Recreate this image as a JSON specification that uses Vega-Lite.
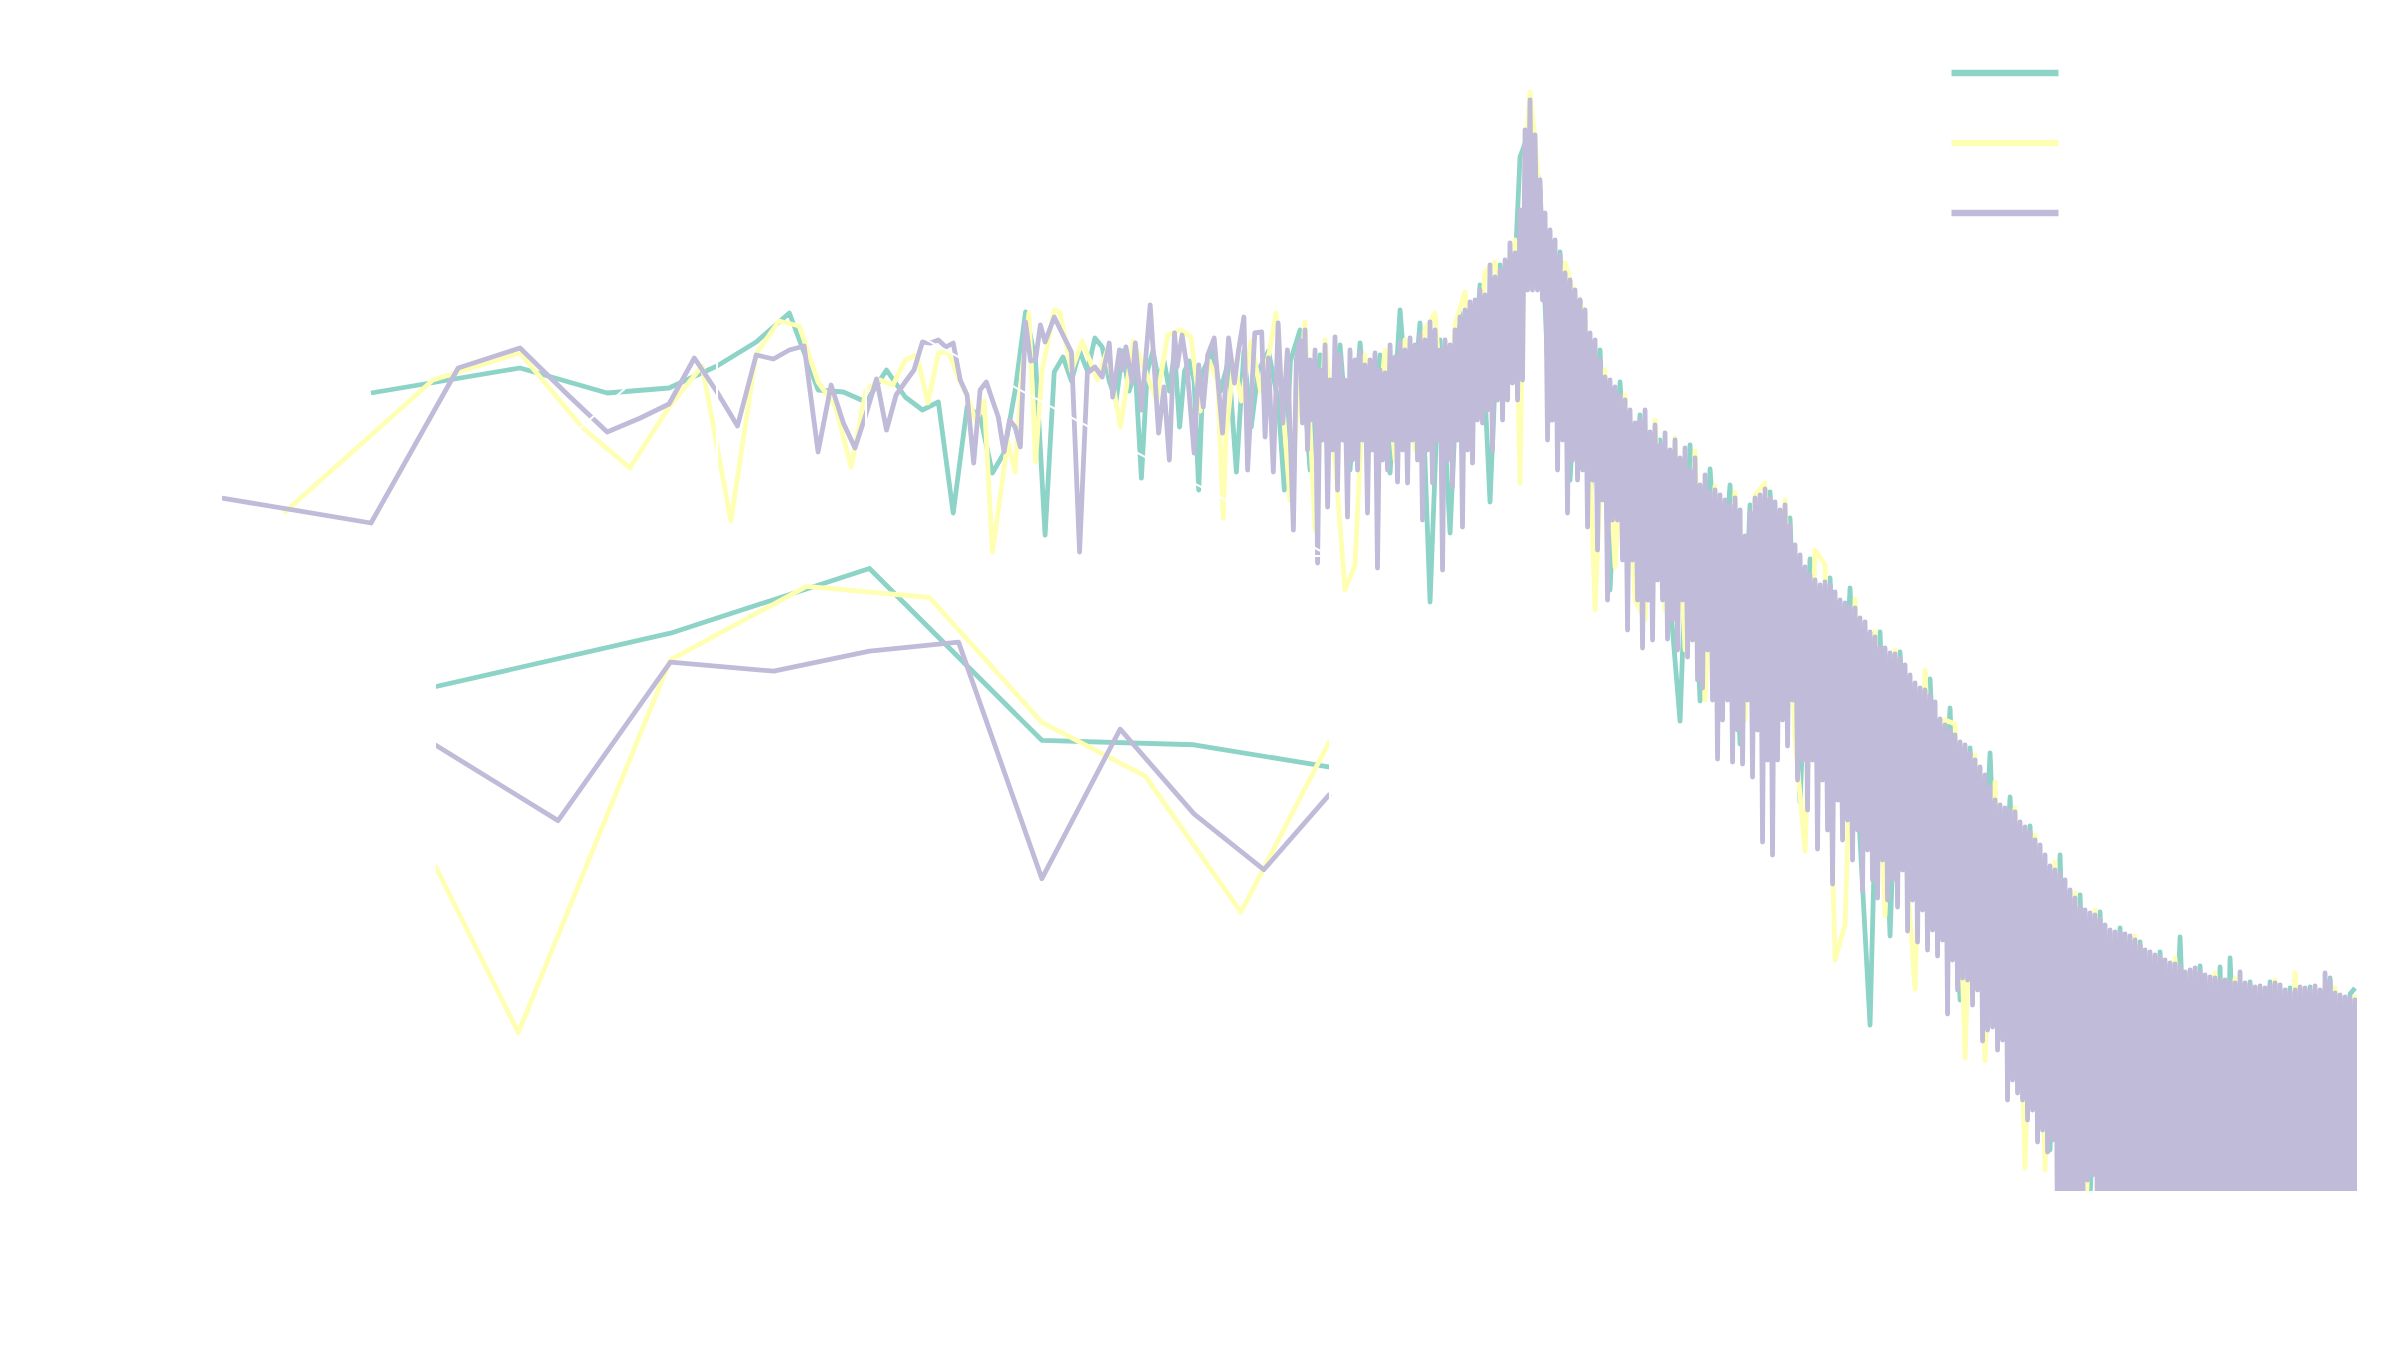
{
  "$schema": "https://vega.github.io/schema/vega-lite/v6.json",
  "width": 2135,
  "height": 1150,
  "autosize": {"type": "none"},
  "padding": {"left": 222, "top": 41, "right": 43, "bottom": 159},
  "background": "#ffffff",
  "config": {
    "view": {"stroke": null},
    "axis": {"domainColor": "#ffffff", "tickColor": "#ffffff", "labelColor": "#ffffff", "titleColor": "#ffffff", "grid": false, "labelFontSize": 22, "tickSize": 8},
    "legend": {"labelColor": "#ffffff"}
  },
  "datasets": {
    "zoom": [{"f1": 10, "f2": 20, "p1": -48.78, "p2": -26.64}],
    "links": [{"f1": 10, "p1": -26.64, "f2": 2.693, "p2": -51.5}, {"f1": 20, "p1": -26.64, "f2": 173.1, "p2": -51.5}],
    "spectra": [
{"series":"A","freq":2,"power":-35.2},{"series":"A","freq":4,"power":-32.7},{"series":"A","freq":6,"power":-35.2},{"series":"A","freq":8,"power":-34.7},{"series":"A","freq":10,"power":-32.5},{"series":"A","freq":12,"power":-30.1},{"series":"A","freq":14,"power":-27.2},{"series":"A","freq":16,"power":-34.9},{"series":"A","freq":18,"power":-35.1},{"series":"A","freq":20,"power":-36.1},
{"series":"A","freq":22,"power":-32.9},{"series":"A","freq":24,"power":-35.6},{"series":"A","freq":26,"power":-36.9},{"series":"A","freq":28,"power":-36.1},{"series":"A","freq":30,"power":-47.2},{"series":"A","freq":32,"power":-36.6},{"series":"A","freq":34,"power":-37.5},{"series":"A","freq":36,"power":-43.2},{"series":"A","freq":38,"power":-41.2},{"series":"A","freq":40,"power":-35.0},
{"series":"A","freq":42,"power":-27.1},{"series":"A","freq":44,"power":-32.0},{"series":"A","freq":46,"power":-49.4},{"series":"A","freq":48,"power":-33.1},{"series":"A","freq":50,"power":-31.6},{"series":"A","freq":52,"power":-34.0},{"series":"A","freq":54,"power":-31.0},{"series":"A","freq":56,"power":-33.0},{"series":"A","freq":58,"power":-29.7},{"series":"A","freq":60,"power":-30.6},
{"series":"A","freq":62,"power":-34.0},{"series":"A","freq":64,"power":-36.0},{"series":"A","freq":66,"power":-31.0},{"series":"A","freq":68,"power":-35.0},{"series":"A","freq":70,"power":-33.0},{"series":"A","freq":72,"power":-43.7},{"series":"A","freq":74,"power":-33.0},{"series":"A","freq":76,"power":-31.0},{"series":"A","freq":78,"power":-34.0},{"series":"A","freq":80,"power":-32.0},
{"series":"A","freq":82,"power":-35.0},{"series":"A","freq":84,"power":-31.0},{"series":"A","freq":86,"power":-38.6},{"series":"A","freq":88,"power":-33.0},{"series":"A","freq":90,"power":-32.0},{"series":"A","freq":92,"power":-34.0},{"series":"A","freq":94,"power":-44.9},{"series":"A","freq":96,"power":-33.0},{"series":"A","freq":100,"power":-31.0},{"series":"A","freq":104,"power":-35.0},
{"series":"A","freq":108,"power":-32.0},{"series":"A","freq":112,"power":-43.1},{"series":"A","freq":116,"power":-31.0},{"series":"A","freq":120,"power":-38.6},{"series":"A","freq":124,"power":-33.0},{"series":"A","freq":130,"power":-31.0},{"series":"A","freq":136,"power":-36.0},{"series":"A","freq":140,"power":-44.9},{"series":"A","freq":144,"power":-32.0},
{"series":"A","freq":150.6,"power":-28.9},{"series":"A","freq":157.8,"power":-42.9},{"series":"A","freq":165.3,"power":-31.4},{"series":"A","freq":173.1,"power":-39.9},{"series":"A","freq":181.4,"power":-30.4},{"series":"A","freq":190.0,"power":-42.9},{"series":"A","freq":199.1,"power":-30.2},{"series":"A","freq":208.5,"power":-40.9},{"series":"A","freq":218.5,"power":-31.4},{"series":"A","freq":228.9,"power":-43.2},
{"series":"A","freq":239.8,"power":-26.9},{"series":"A","freq":251.2,"power":-39.9},{"series":"A","freq":263.1,"power":-28.2},{"series":"A","freq":275.7,"power":-56.1},{"series":"A","freq":288.8,"power":-29.9},{"series":"A","freq":302.6,"power":-49.2},{"series":"A","freq":316.9,"power":-27.1},{"series":"A","freq":332.0,"power":-39.9},{"series":"A","freq":347.8,"power":-24.4},{"series":"A","freq":364.4,"power":-46.1},
{"series":"A","freq":381.8,"power":-22.4},{"series":"A","freq":399.9,"power":-33.9},{"series":"A","freq":419.0,"power":-11.6},{"series":"A","freq":438.9,"power":-8.9},{"series":"A","freq":459.8,"power":-14.7},{"series":"A","freq":481.8,"power":-37.9},{"series":"A","freq":504.7,"power":-21.1},{"series":"A","freq":528.7,"power":-43.9},{"series":"A","freq":553.9,"power":-25.9},{"series":"A","freq":580.3,"power":-45.9},
{"series":"A","freq":607.9,"power":-30.9},{"series":"A","freq":636.8,"power":-54.9},{"series":"A","freq":667.2,"power":-34.1},{"series":"A","freq":698.9,"power":-51.9},
{"series":"A","freq":732.2,"power":-37.4},{"series":"A","freq":767.1,"power":-55.9},{"series":"A","freq":803.6,"power":-39.9},{"series":"A","freq":841.9,"power":-55.9},{"series":"A","freq":882.0,"power":-68.0},{"series":"A","freq":924.0,"power":-40.4},{"series":"A","freq":968.0,"power":-66.0},{"series":"A","freq":1014.1,"power":-42.8},{"series":"A","freq":1062.4,"power":-57.9},{"series":"A","freq":1113.0,"power":-44.4},
{"series":"A","freq":1166.0,"power":-70.3},{"series":"A","freq":1221.4,"power":-46.4},{"series":"A","freq":1279.6,"power":-65.9},{"series":"A","freq":1340.5,"power":-45.1},{"series":"A","freq":1404.4,"power":-63.9},{"series":"A","freq":1471.2,"power":-47.7},{"series":"A","freq":1541.3,"power":-76.1},{"series":"A","freq":1614.7,"power":-51.8},{"series":"A","freq":1691.6,"power":-71.9},{"series":"A","freq":1772.1,"power":-53.7},
{"series":"A","freq":1856.5,"power":-75.9},{"series":"A","freq":1944.9,"power":-54.7},{"series":"A","freq":2037.5,"power":-79.9},{"series":"A","freq":2134.5,"power":-98.4},{"series":"A","freq":2236.2,"power":-59.1},{"series":"A","freq":2342.7,"power":-89.5},{"series":"A","freq":2454.2,"power":-61.1},{"series":"A","freq":2571.1,"power":-82.9},{"series":"A","freq":2693.5,"power":-83.9},{"series":"A","freq":2821.8,"power":-63.8},
{"series":"A","freq":2956.2,"power":-85.9},{"series":"A","freq":3096.9,"power":-66.7},{"series":"A","freq":3244.4,"power":-95.9},{"series":"A","freq":3398.9,"power":-70.7},{"series":"A","freq":3560.8,"power":-91.9},{"series":"A","freq":3730.4,"power":-71.2},{"series":"A","freq":3907.8,"power":-95.9},{"series":"A","freq":4093.9,"power":-75.6},{"series":"A","freq":4288.9,"power":-100.9},{"series":"A","freq":4493.1,"power":-78.5},
{"series":"A","freq":4707.1,"power":-105.9},{"series":"A","freq":4931.1,"power":-110.9},{"series":"A","freq":5166.0,"power":-81.4},{"series":"A","freq":5412.0,"power":-115.9},{"series":"A","freq":5669.7,"power":-85.4},{"series":"A","freq":5939.7,"power":-115.9},{"series":"A","freq":6222.4,"power":-87.1},{"series":"A","freq":6518.8,"power":-115.9},{"series":"A","freq":6829.2,"power":-88.7},{"series":"A","freq":7154.4,"power":-115.9},
{"series":"A","freq":7495.1,"power":-90.1},{"series":"A","freq":7851.8,"power":-115.9},{"series":"A","freq":8225.8,"power":-91.1},{"series":"A","freq":8617.5,"power":-115.9},{"series":"A","freq":9027.9,"power":-89.6},{"series":"A","freq":9457.8,"power":-115.9},{"series":"A","freq":9907.9,"power":-92.5},{"series":"A","freq":10380,"power":-115.9},{"series":"A","freq":10874,"power":-92.6},{"series":"A","freq":11130,"power":-115.9},{"series":"A","freq":11392,"power":-91.7},
{"series":"A","freq":11934,"power":-115.9},{"series":"A","freq":12502,"power":-94.1},{"series":"A","freq":13098,"power":-115.9},{"series":"A","freq":13721,"power":-94.1},{"series":"A","freq":14375,"power":-115.9},{"series":"A","freq":15059,"power":-94.7},{"series":"A","freq":15776,"power":-115.9},{"series":"A","freq":16527,"power":-94.6},{"series":"A","freq":17314,"power":-115.9},{"series":"A","freq":18139,"power":-93.7},
{"series":"A","freq":19002,"power":-115.9},{"series":"A","freq":19907,"power":-95.3},{"series":"A","freq":20375,"power":-94.7},

{"series":"B","freq":1.333,"power":-47.2},{"series":"B","freq":2.667,"power":-33.9},{"series":"B","freq":4,"power":-31.2},{"series":"B","freq":5.333,"power":-38.6},{"series":"B","freq":6.667,"power":-42.7},{"series":"B","freq":8,"power":-36.6},{"series":"B","freq":9.333,"power":-32.5},{"series":"B","freq":10,"power":-40.5},{"series":"B","freq":10.667,"power":-48.0},{"series":"B","freq":12,"power":-31.3},
{"series":"B","freq":13.333,"power":-28.0},{"series":"B","freq":14.667,"power":-28.5},{"series":"B","freq":16,"power":-34.1},{"series":"B","freq":17.333,"power":-36.5},{"series":"B","freq":18.667,"power":-42.6},{"series":"B","freq":20,"power":-34.9},{"series":"B","freq":21.333,"power":-33.9},{"series":"B","freq":22.667,"power":-34.4},{"series":"B","freq":24,"power":-31.9},{"series":"B","freq":25.333,"power":-31.4},
{"series":"B","freq":26.667,"power":-36.2},{"series":"B","freq":28,"power":-31.2},{"series":"B","freq":29.333,"power":-31.1},{"series":"B","freq":30.667,"power":-33.6},{"series":"B","freq":32,"power":-35.5},{"series":"B","freq":33.333,"power":-38.0},{"series":"B","freq":34.667,"power":-36.0},{"series":"B","freq":36,"power":-51.1},{"series":"B","freq":37.333,"power":-45.6},{"series":"B","freq":38.667,"power":-40.0},
{"series":"B","freq":40,"power":-43.1},{"series":"B","freq":41.333,"power":-33.0},{"series":"B","freq":42.667,"power":-27.2},{"series":"B","freq":44,"power":-42.1},{"series":"B","freq":45.333,"power":-33.0},{"series":"B","freq":46.667,"power":-30.0},{"series":"B","freq":48,"power":-26.9},{"series":"B","freq":49.333,"power":-27.2},{"series":"B","freq":52,"power":-33.0},{"series":"B","freq":54.667,"power":-30.0},
{"series":"B","freq":58.667,"power":-33.9},{"series":"B","freq":61.333,"power":-31.0},{"series":"B","freq":65.333,"power":-38.6},{"series":"B","freq":69.333,"power":-30.0},{"series":"B","freq":73.333,"power":-33.0},{"series":"B","freq":77.333,"power":-36.0},{"series":"B","freq":81.333,"power":-29.4},{"series":"B","freq":86.667,"power":-28.9},{"series":"B","freq":90.667,"power":-29.6},{"series":"B","freq":94.667,"power":-37.0},
{"series":"B","freq":98.667,"power":-32.0},{"series":"B","freq":102.667,"power":-34.0},{"series":"B","freq":105.333,"power":-47.7},{"series":"B","freq":106.667,"power":-39.6},{"series":"B","freq":110.667,"power":-32.0},{"series":"B","freq":114.667,"power":-36.0},{"series":"B","freq":120,"power":-30.0},{"series":"B","freq":125.333,"power":-35.0},{"series":"B","freq":130.667,"power":-31.0},{"series":"B","freq":134.667,"power":-27.2},
{"series":"B","freq":143.7,"power":-45.9},
{"series":"B","freq":154.1,"power":-28.1},{"series":"B","freq":161.5,"power":-48.9},{"series":"B","freq":169.2,"power":-29.9},{"series":"B","freq":177.2,"power":-41.9},{"series":"B","freq":185.6,"power":-54.9},{"series":"B","freq":194.5,"power":-52.4},{"series":"B","freq":203.7,"power":-31.4},{"series":"B","freq":213.4,"power":-40.9},{"series":"B","freq":223.6,"power":-30.9},{"series":"B","freq":234.3,"power":-41.9},
{"series":"B","freq":245.4,"power":-29.9},{"series":"B","freq":257.1,"power":-40.9},{"series":"B","freq":269.3,"power":-28.9},{"series":"B","freq":282.2,"power":-27.2},{"series":"B","freq":295.6,"power":-40.9},{"series":"B","freq":309.7,"power":-28.4},{"series":"B","freq":324.4,"power":-25.1},{"series":"B","freq":339.8,"power":-37.9},{"series":"B","freq":356.0,"power":-23.1},{"series":"B","freq":373.0,"power":-22.1},
{"series":"B","freq":390.8,"power":-35.9},{"series":"B","freq":409.4,"power":-19.9},{"series":"B","freq":419.0,"power":-44.2},{"series":"B","freq":428.9,"power":-11.9},{"series":"B","freq":438.9,"power":-5.1},{"series":"B","freq":449.3,"power":-9.9},{"series":"B","freq":459.8,"power":-15.9},{"series":"B","freq":470.7,"power":-23.9},{"series":"B","freq":493.1,"power":-37.2},{"series":"B","freq":516.6,"power":-22.2},
{"series":"B","freq":541.2,"power":-25.6},{"series":"B","freq":567.0,"power":-27.1},{"series":"B","freq":594.0,"power":-56.9},{"series":"B","freq":622.2,"power":-32.9},{"series":"B","freq":651.8,"power":-52.6},{"series":"B","freq":682.9,"power":-35.4},{"series":"B","freq":715.4,"power":-55.9},
{"series":"B","freq":749.5,"power":-57.9},{"series":"B","freq":785.1,"power":-37.9},{"series":"B","freq":822.5,"power":-56.9},{"series":"B","freq":861.7,"power":-39.7},{"series":"B","freq":902.8,"power":-60.9},{"series":"B","freq":945.7,"power":-41.0},{"series":"B","freq":990.8,"power":-65.9},{"series":"B","freq":1038.0,"power":-44.5},{"series":"B","freq":1087.4,"power":-63.9},{"series":"B","freq":1139.2,"power":-45.1},
{"series":"B","freq":1193.4,"power":-67.9},{"series":"B","freq":1250.1,"power":-45.4},{"series":"B","freq":1309.7,"power":-44.2},{"series":"B","freq":1372.1,"power":-71.9},{"series":"B","freq":1437.4,"power":-45.9},{"series":"B","freq":1505.8,"power":-69.9},{"series":"B","freq":1577.6,"power":-81.0},{"series":"B","freq":1652.7,"power":-50.9},{"series":"B","freq":1731.4,"power":-52.4},{"series":"B","freq":1813.8,"power":-91.9},
{"series":"B","freq":1900.2,"power":-88.4},{"series":"B","freq":1990.7,"power":-55.8},{"series":"B","freq":2085.4,"power":-73.9},{"series":"B","freq":2184.8,"power":-59.1},{"series":"B","freq":2288.8,"power":-87.5},{"series":"B","freq":2397.8,"power":-60.9},{"series":"B","freq":2512.0,"power":-80.9},{"series":"B","freq":2631.6,"power":-94.8},{"series":"B","freq":2756.9,"power":-62.9},{"series":"B","freq":2888.2,"power":-85.9},
{"series":"B","freq":3025.7,"power":-67.9},{"series":"B","freq":3169.8,"power":-68.3},{"series":"B","freq":3320.8,"power":-101.7},{"series":"B","freq":3478.9,"power":-71.4},{"series":"B","freq":3644.6,"power":-102.0},{"series":"B","freq":3818.2,"power":-74.1},{"series":"B","freq":3999.8,"power":-95.9},{"series":"B","freq":4190.2,"power":-76.7},{"series":"B","freq":4389.8,"power":-112.7},{"series":"B","freq":4598.8,"power":-79.4},
{"series":"B","freq":4817.8,"power":-112.9},{"series":"B","freq":5047.2,"power":-82.1},{"series":"B","freq":5287.5,"power":-120.9},{"series":"B","freq":5539.3,"power":-85.2},{"series":"B","freq":5803.1,"power":-120.9},{"series":"B","freq":6079.5,"power":-86.9},{"series":"B","freq":6368.9,"power":-115.9},{"series":"B","freq":6672.2,"power":-89.3},{"series":"B","freq":6989.9,"power":-115.9},{"series":"B","freq":7322.8,"power":-89.5},
{"series":"B","freq":7671.5,"power":-115.9},{"series":"B","freq":8036.6,"power":-91.6},{"series":"B","freq":8419.4,"power":-115.9},{"series":"B","freq":8820.3,"power":-91.7},{"series":"B","freq":9240.3,"power":-115.9},{"series":"B","freq":9680.4,"power":-92.9},{"series":"B","freq":10141,"power":-115.9},{"series":"B","freq":10624,"power":-93.2},{"series":"B","freq":11130,"power":-115.9},{"series":"B","freq":11660,"power":-93.7},
{"series":"B","freq":12215,"power":-115.9},{"series":"B","freq":12796,"power":-94.8},{"series":"B","freq":13406,"power":-115.9},{"series":"B","freq":14044,"power":-93.9},{"series":"B","freq":14713,"power":-115.9},{"series":"B","freq":15414,"power":-93.2},{"series":"B","freq":16147,"power":-115.9},{"series":"B","freq":16916,"power":-94.7},{"series":"B","freq":17722,"power":-115.9},{"series":"B","freq":18565,"power":-94.7},
{"series":"B","freq":19449,"power":-115.9},{"series":"B","freq":20375,"power":-95.4},

{"series":"C","freq":1,"power":-45.7},{"series":"C","freq":2,"power":-48.2},{"series":"C","freq":3,"power":-32.7},{"series":"C","freq":4,"power":-30.7},{"series":"C","freq":5,"power":-35.4},{"series":"C","freq":6,"power":-39.1},{"series":"C","freq":7,"power":-37.7},{"series":"C","freq":8,"power":-36.3},{"series":"C","freq":9,"power":-31.7},{"series":"C","freq":10,"power":-35.1},
{"series":"C","freq":11,"power":-38.5},{"series":"C","freq":12,"power":-31.4},{"series":"C","freq":13,"power":-31.8},{"series":"C","freq":14,"power":-30.9},{"series":"C","freq":15,"power":-30.5},{"series":"C","freq":16,"power":-41.1},{"series":"C","freq":17,"power":-34.4},{"series":"C","freq":18,"power":-38.2},{"series":"C","freq":19,"power":-40.7},{"series":"C","freq":20,"power":-37.3},
{"series":"C","freq":21,"power":-33.8},{"series":"C","freq":22,"power":-38.9},{"series":"C","freq":23,"power":-35.4},{"series":"C","freq":24,"power":-34.1},{"series":"C","freq":25,"power":-32.9},{"series":"C","freq":26,"power":-30.1},{"series":"C","freq":27,"power":-30.2},{"series":"C","freq":28,"power":-29.9},{"series":"C","freq":29,"power":-30.6},{"series":"C","freq":30,"power":-30.2},
{"series":"C","freq":31,"power":-33.9},{"series":"C","freq":32,"power":-35.4},{"series":"C","freq":33,"power":-42.2},{"series":"C","freq":34,"power":-34.9},{"series":"C","freq":35,"power":-34.1},{"series":"C","freq":36,"power":-35.9},{"series":"C","freq":37,"power":-37.6},{"series":"C","freq":38,"power":-41.1},{"series":"C","freq":39,"power":-37.9},{"series":"C","freq":40,"power":-38.6},
{"series":"C","freq":41,"power":-40.6},{"series":"C","freq":42,"power":-28.1},{"series":"C","freq":43,"power":-32.0},{"series":"C","freq":44,"power":-31.9},{"series":"C","freq":45,"power":-28.4},{"series":"C","freq":46,"power":-30.1},{"series":"C","freq":48,"power":-27.6},{"series":"C","freq":50,"power":-29.4},{"series":"C","freq":52,"power":-31.1},{"series":"C","freq":54,"power":-51.1},
{"series":"C","freq":56,"power":-33.2},{"series":"C","freq":58,"power":-32.6},{"series":"C","freq":60,"power":-33.6},{"series":"C","freq":62,"power":-30.2},{"series":"C","freq":63,"power":-35.6},{"series":"C","freq":65,"power":-30.9},{"series":"C","freq":66,"power":-32.9},{"series":"C","freq":67,"power":-30.6},{"series":"C","freq":69,"power":-34.2},{"series":"C","freq":70,"power":-30.2},
{"series":"C","freq":72,"power":-36.9},{"series":"C","freq":75,"power":-26.4},{"series":"C","freq":78,"power":-39.2},{"series":"C","freq":80,"power":-34.6},{"series":"C","freq":82,"power":-41.9},{"series":"C","freq":84,"power":-29.2},{"series":"C","freq":85,"power":-32.6},{"series":"C","freq":87,"power":-29.4},{"series":"C","freq":89,"power":-32.6},{"series":"C","freq":92,"power":-41.2},
{"series":"C","freq":94,"power":-32.4},{"series":"C","freq":96,"power":-36.6},{"series":"C","freq":98,"power":-31.4},{"series":"C","freq":101,"power":-29.7},{"series":"C","freq":105,"power":-39.2},{"series":"C","freq":108,"power":-29.7},{"series":"C","freq":111,"power":-34.2},{"series":"C","freq":113,"power":-31.1},{"series":"C","freq":116,"power":-27.6},{"series":"C","freq":118,"power":-42.9},
{"series":"C","freq":122,"power":-29.2},{"series":"C","freq":126,"power":-29.1},{"series":"C","freq":128,"power":-39.6},{"series":"C","freq":130,"power":-31.7},{"series":"C","freq":133,"power":-43.1},{"series":"C","freq":136,"power":-28.2},{"series":"C","freq":139,"power":-38.2},{"series":"C","freq":142,"power":-30.9},{"series":"C","freq":146,"power":-48.9},{"series":"C","freq":148,"power":-31.9},
{"series":"C","freq":150.6,"power":-29.9},{"series":"C","freq":152.3,"power":-38.2},{"series":"C","freq":154.1,"power":-28.9},{"series":"C","freq":155.9,"power":-40.9},{"series":"C","freq":157.8,"power":-31.9},{"series":"C","freq":159.6,"power":-37.9},{"series":"C","freq":161.5,"power":-30.9},{"series":"C","freq":163.4,"power":-52.2},{"series":"C","freq":165.3,"power":-32.9},{"series":"C","freq":167.2,"power":-39.9},
{"series":"C","freq":169.2,"power":-30.4},{"series":"C","freq":171.2,"power":-46.6},{"series":"C","freq":173.1,"power":-33.9},{"series":"C","freq":175.1,"power":-40.9},{"series":"C","freq":177.2,"power":-29.6},{"series":"C","freq":179.3,"power":-44.9},{"series":"C","freq":181.4,"power":-31.4},{"series":"C","freq":183.5,"power":-39.9},{"series":"C","freq":185.6,"power":-33.9},{"series":"C","freq":187.8,"power":-47.6},
{"series":"C","freq":190.0,"power":-30.9},{"series":"C","freq":192.2,"power":-41.9},{"series":"C","freq":194.5,"power":-31.9},{"series":"C","freq":196.8,"power":-42.9},{"series":"C","freq":199.1,"power":-31.1},{"series":"C","freq":201.4,"power":-39.9},{"series":"C","freq":203.7,"power":-32.4},{"series":"C","freq":206.1,"power":-47.2},{"series":"C","freq":208.5,"power":-31.9},{"series":"C","freq":210.9,"power":-40.9},
{"series":"C","freq":213.4,"power":-31.2},{"series":"C","freq":215.9,"power":-52.7},{"series":"C","freq":218.5,"power":-32.9},{"series":"C","freq":221.1,"power":-41.9},{"series":"C","freq":223.6,"power":-33.2},{"series":"C","freq":226.2,"power":-42.9},{"series":"C","freq":228.9,"power":-30.4},{"series":"C","freq":231.6,"power":-39.9},{"series":"C","freq":234.3,"power":-31.6},{"series":"C","freq":237.0,"power":-44.1},
{"series":"C","freq":239.8,"power":-30.2},{"series":"C","freq":242.6,"power":-40.9},{"series":"C","freq":245.4,"power":-30.9},{"series":"C","freq":248.3,"power":-44.2},{"series":"C","freq":251.2,"power":-29.7},{"series":"C","freq":254.1,"power":-39.9},{"series":"C","freq":257.1,"power":-30.4},{"series":"C","freq":260.1,"power":-41.9},{"series":"C","freq":263.1,"power":-29.4},{"series":"C","freq":266.2,"power":-47.9},
{"series":"C","freq":269.3,"power":-29.9},{"series":"C","freq":272.5,"power":-40.9},{"series":"C","freq":275.7,"power":-28.1},{"series":"C","freq":278.9,"power":-44.2},{"series":"C","freq":282.2,"power":-28.9},{"series":"C","freq":285.5,"power":-39.9},{"series":"C","freq":288.8,"power":-30.9},{"series":"C","freq":292.2,"power":-52.9},{"series":"C","freq":295.6,"power":-29.9},{"series":"C","freq":299.1,"power":-41.9},
{"series":"C","freq":302.6,"power":-30.4},{"series":"C","freq":306.1,"power":-44.6},{"series":"C","freq":309.7,"power":-28.9},{"series":"C","freq":313.3,"power":-39.9},{"series":"C","freq":316.9,"power":-27.6},{"series":"C","freq":320.6,"power":-48.6},{"series":"C","freq":324.4,"power":-26.9},{"series":"C","freq":328.2,"power":-40.9},{"series":"C","freq":332.0,"power":-26.1},{"series":"C","freq":335.9,"power":-42.2},
{"series":"C","freq":339.8,"power":-25.9},{"series":"C","freq":343.8,"power":-37.9},{"series":"C","freq":347.8,"power":-24.9},{"series":"C","freq":351.9,"power":-38.2},{"series":"C","freq":356.0,"power":-25.4},{"series":"C","freq":360.2,"power":-36.9},{"series":"C","freq":364.4,"power":-22.4},{"series":"C","freq":368.7,"power":-40.9},{"series":"C","freq":373.0,"power":-23.6},{"series":"C","freq":377.4,"power":-35.9},
{"series":"C","freq":381.8,"power":-22.9},{"series":"C","freq":386.3,"power":-37.9},{"series":"C","freq":390.8,"power":-21.9},{"series":"C","freq":395.4,"power":-35.9},{"series":"C","freq":399.9,"power":-20.2},{"series":"C","freq":404.6,"power":-34.2},{"series":"C","freq":409.4,"power":-21.2},{"series":"C","freq":414.2,"power":-35.9},{"series":"C","freq":419.0,"power":-16.9},{"series":"C","freq":423.9,"power":-33.9},
{"series":"C","freq":428.9,"power":-8.9},{"series":"C","freq":433.9,"power":-24.9},{"series":"C","freq":438.9,"power":-5.9},{"series":"C","freq":444.0,"power":-24.9},{"series":"C","freq":449.3,"power":-9.4},{"series":"C","freq":454.5,"power":-24.9},{"series":"C","freq":459.8,"power":-13.9},{"series":"C","freq":465.2,"power":-25.9},{"series":"C","freq":470.7,"power":-17.2},{"series":"C","freq":476.2,"power":-39.9},
{"series":"C","freq":481.8,"power":-18.9},{"series":"C","freq":487.4,"power":-37.9},{"series":"C","freq":493.1,"power":-19.9},{"series":"C","freq":498.9,"power":-42.9},{"series":"C","freq":504.7,"power":-21.4},{"series":"C","freq":510.6,"power":-39.9},{"series":"C","freq":516.6,"power":-23.2},{"series":"C","freq":522.6,"power":-47.2},{"series":"C","freq":528.7,"power":-23.9},{"series":"C","freq":534.9,"power":-41.9},
{"series":"C","freq":541.2,"power":-24.9},{"series":"C","freq":547.5,"power":-43.9},{"series":"C","freq":553.9,"power":-25.9},{"series":"C","freq":560.4,"power":-42.9},{"series":"C","freq":567.0,"power":-26.9},{"series":"C","freq":573.6,"power":-48.6},{"series":"C","freq":580.3,"power":-29.2},{"series":"C","freq":587.1,"power":-43.9},{"series":"C","freq":594.0,"power":-29.9},{"series":"C","freq":600.9,"power":-50.9},
{"series":"C","freq":607.9,"power":-31.9},{"series":"C","freq":615.0,"power":-45.9},{"series":"C","freq":622.2,"power":-33.6},{"series":"C","freq":629.5,"power":-55.9},{"series":"C","freq":636.8,"power":-33.9},{"series":"C","freq":644.2,"power":-47.9},{"series":"C","freq":651.8,"power":-34.6},{"series":"C","freq":659.4,"power":-47.9},{"series":"C","freq":667.2,"power":-35.4},{"series":"C","freq":675.0,"power":-51.9},
{"series":"C","freq":682.9,"power":-35.9},{"series":"C","freq":690.9,"power":-58.9},{"series":"C","freq":698.9,"power":-36.9},{"series":"C","freq":707.1,"power":-51.9},{"series":"C","freq":715.4,"power":-38.2},{"series":"C","freq":723.8,"power":-55.9},
{"series":"C","freq":732.2,"power":-37.9},{"series":"C","freq":740.8,"power":-60.7},{"series":"C","freq":749.5,"power":-36.9},{"series":"C","freq":758.3,"power":-55.9},{"series":"C","freq":767.1,"power":-39.1},{"series":"C","freq":776.1,"power":-59.9},{"series":"C","freq":785.1,"power":-38.4},{"series":"C","freq":794.3,"power":-53.9},{"series":"C","freq":803.6,"power":-40.4},{"series":"C","freq":813.0,"power":-55.9},
{"series":"C","freq":822.5,"power":-39.2},{"series":"C","freq":832.1,"power":-59.8},{"series":"C","freq":841.9,"power":-40.9},{"series":"C","freq":851.7,"power":-57.9},{"series":"C","freq":861.7,"power":-39.9},{"series":"C","freq":871.8,"power":-60.9},{"series":"C","freq":882.0,"power":-41.7},{"series":"C","freq":892.3,"power":-55.9},{"series":"C","freq":902.8,"power":-40.7},{"series":"C","freq":913.4,"power":-61.6},
{"series":"C","freq":924.0,"power":-42.9},{"series":"C","freq":934.8,"power":-59.9},{"series":"C","freq":945.7,"power":-41.7},{"series":"C","freq":956.8,"power":-63.9},{"series":"C","freq":968.0,"power":-44.4},{"series":"C","freq":979.3,"power":-64.7},{"series":"C","freq":990.8,"power":-43.4},{"series":"C","freq":1002.4,"power":-60.9},{"series":"C","freq":1014.1,"power":-45.1},{"series":"C","freq":1026.0,"power":-65.9},
{"series":"C","freq":1038.0,"power":-44.9},{"series":"C","freq":1050.1,"power":-71.8},{"series":"C","freq":1062.4,"power":-45.4},{"series":"C","freq":1074.8,"power":-67.9},{"series":"C","freq":1087.4,"power":-45.9},{"series":"C","freq":1100.1,"power":-65.9},{"series":"C","freq":1113.0,"power":-46.4},{"series":"C","freq":1126.0,"power":-72.1},{"series":"C","freq":1139.2,"power":-45.7},{"series":"C","freq":1152.5,"power":-68.9},
{"series":"C","freq":1166.0,"power":-46.9},{"series":"C","freq":1179.6,"power":-72.3},{"series":"C","freq":1193.4,"power":-49.5},{"series":"C","freq":1207.4,"power":-65.9},{"series":"C","freq":1221.4,"power":-47.1},{"series":"C","freq":1235.7,"power":-73.6},{"series":"C","freq":1250.1,"power":-45.7},{"series":"C","freq":1264.7,"power":-68.9},{"series":"C","freq":1279.6,"power":-45.4},{"series":"C","freq":1294.6,"power":-80.1},
{"series":"C","freq":1309.7,"power":-44.8},{"series":"C","freq":1325.0,"power":-71.9},{"series":"C","freq":1340.5,"power":-45.7},{"series":"C","freq":1356.2,"power":-81.4},{"series":"C","freq":1372.1,"power":-46.1},{"series":"C","freq":1388.1,"power":-71.9},{"series":"C","freq":1404.4,"power":-46.9},{"series":"C","freq":1420.8,"power":-67.9},{"series":"C","freq":1437.4,"power":-46.4},{"series":"C","freq":1454.2,"power":-70.5},
{"series":"C","freq":1471.2,"power":-48.4},{"series":"C","freq":1488.4,"power":-65.9},{"series":"C","freq":1505.8,"power":-50.4},{"series":"C","freq":1523.4,"power":-73.9},{"series":"C","freq":1541.3,"power":-51.4},{"series":"C","freq":1559.3,"power":-71.9},{"series":"C","freq":1577.6,"power":-52.6},{"series":"C","freq":1596.0,"power":-76.9},{"series":"C","freq":1614.7,"power":-53.4},{"series":"C","freq":1633.6,"power":-71.9},
{"series":"C","freq":1652.7,"power":-53.9},{"series":"C","freq":1672.0,"power":-80.8},{"series":"C","freq":1691.6,"power":-54.4},{"series":"C","freq":1711.4,"power":-73.9},{"series":"C","freq":1731.4,"power":-54.1},{"series":"C","freq":1751.7,"power":-78.9},{"series":"C","freq":1772.1,"power":-54.4},{"series":"C","freq":1792.8,"power":-84.3},{"series":"C","freq":1813.8,"power":-55.1},{"series":"C","freq":1835.0,"power":-75.9},
{"series":"C","freq":1856.5,"power":-55.9},{"series":"C","freq":1878.2,"power":-79.9},{"series":"C","freq":1900.2,"power":-56.2},{"series":"C","freq":1922.4,"power":-77.9},{"series":"C","freq":1944.9,"power":-56.6},{"series":"C","freq":1967.6,"power":-81.9},{"series":"C","freq":1990.7,"power":-56.7},{"series":"C","freq":2014.0,"power":-78.9},{"series":"C","freq":2037.5,"power":-57.7},{"series":"C","freq":2061.3,"power":-85.0},
{"series":"C","freq":2085.4,"power":-58.1},{"series":"C","freq":2109.8,"power":-80.9},{"series":"C","freq":2134.5,"power":-59.1},{"series":"C","freq":2159.5,"power":-83.9},{"series":"C","freq":2184.8,"power":-59.6},{"series":"C","freq":2210.4,"power":-85.7},{"series":"C","freq":2236.2,"power":-60.6},{"series":"C","freq":2262.4,"power":-81.9},{"series":"C","freq":2288.8,"power":-60.7},{"series":"C","freq":2315.6,"power":-85.9},
{"series":"C","freq":2342.7,"power":-61.2},{"series":"C","freq":2370.1,"power":-83.9},{"series":"C","freq":2397.8,"power":-61.3},{"series":"C","freq":2425.8,"power":-86.6},{"series":"C","freq":2454.2,"power":-61.7},{"series":"C","freq":2482.9,"power":-82.9},{"series":"C","freq":2512.0,"power":-62.4},{"series":"C","freq":2541.4,"power":-89.0},{"series":"C","freq":2571.1,"power":-63.4},{"series":"C","freq":2601.2,"power":-85.9},
{"series":"C","freq":2631.6,"power":-64.2},{"series":"C","freq":2662.4,"power":-90.1},{"series":"C","freq":2693.5,"power":-64.7},{"series":"C","freq":2725.0,"power":-86.9},{"series":"C","freq":2756.9,"power":-64.9},{"series":"C","freq":2789.1,"power":-90.9},{"series":"C","freq":2821.8,"power":-65.4},{"series":"C","freq":2854.8,"power":-88.9},{"series":"C","freq":2888.2,"power":-66.1},{"series":"C","freq":2922.0,"power":-91.5},
{"series":"C","freq":2956.2,"power":-67.8},{"series":"C","freq":2990.8,"power":-89.9},{"series":"C","freq":3025.7,"power":-68.4},{"series":"C","freq":3061.1,"power":-97.3},{"series":"C","freq":3096.9,"power":-69.0},{"series":"C","freq":3133.1,"power":-91.9},{"series":"C","freq":3169.8,"power":-69.4},{"series":"C","freq":3206.9,"power":-94.9},{"series":"C","freq":3244.4,"power":-70.1},{"series":"C","freq":3282.4,"power":-93.7},
{"series":"C","freq":3320.8,"power":-70.4},{"series":"C","freq":3359.6,"power":-93.9},{"series":"C","freq":3398.9,"power":-71.2},{"series":"C","freq":3438.7,"power":-96.4},{"series":"C","freq":3478.9,"power":-71.9},{"series":"C","freq":3519.6,"power":-94.9},{"series":"C","freq":3560.8,"power":-72.6},{"series":"C","freq":3602.5,"power":-100.0},{"series":"C","freq":3644.6,"power":-73.4},{"series":"C","freq":3687.2,"power":-98.9},
{"series":"C","freq":3730.4,"power":-74.6},{"series":"C","freq":3774.0,"power":-98.6},{"series":"C","freq":3818.2,"power":-75.9},{"series":"C","freq":3862.9,"power":-100.9},{"series":"C","freq":3907.8,"power":-76.4},{"series":"C","freq":3953.5,"power":-99.9},{"series":"C","freq":3999.8,"power":-76.7},{"series":"C","freq":4046.6,"power":-105.9},{"series":"C","freq":4093.9,"power":-76.9},{"series":"C","freq":4141.8,"power":-103.9},
{"series":"C","freq":4190.2,"power":-77.1},{"series":"C","freq":4239.2,"power":-105.2},{"series":"C","freq":4288.9,"power":-78.1},{"series":"C","freq":4339.1,"power":-105.9},{"series":"C","freq":4389.8,"power":-78.6},{"series":"C","freq":4441.2,"power":-107.9},{"series":"C","freq":4493.1,"power":-79.1},{"series":"C","freq":4545.7,"power":-106.9},{"series":"C","freq":4598.8,"power":-79.9},{"series":"C","freq":4652.6,"power":-110.1},
{"series":"C","freq":4707.1,"power":-80.4},{"series":"C","freq":4762.2,"power":-108.9},{"series":"C","freq":4817.8,"power":-81.4},{"series":"C","freq":4874.2,"power":-111.1},{"series":"C","freq":4931.1,"power":-82.5},{"series":"C","freq":4988.8,"power":-109.9},{"series":"C","freq":5047.2,"power":-82.9},{"series":"C","freq":5106.3,"power":-120.9},{"series":"C","freq":5166.0,"power":-83.2},{"series":"C","freq":5226.4,"power":-120.9},
{"series":"C","freq":5287.5,"power":-83.9},{"series":"C","freq":5349.4,"power":-120.9},{"series":"C","freq":5412.0,"power":-84.9},{"series":"C","freq":5475.3,"power":-120.9},{"series":"C","freq":5539.3,"power":-85.7},{"series":"C","freq":5604.1,"power":-120.9},{"series":"C","freq":5669.7,"power":-86.6},{"series":"C","freq":5736.0,"power":-120.9},{"series":"C","freq":5803.1,"power":-86.9},{"series":"C","freq":5871.0,"power":-113.9},
{"series":"C","freq":5939.7,"power":-87.2},{"series":"C","freq":6009.2,"power":-113.4},{"series":"C","freq":6079.5,"power":-87.4},{"series":"C","freq":6150.6,"power":-120.9},{"series":"C","freq":6222.4,"power":-87.8},{"series":"C","freq":6295.2,"power":-120.9},{"series":"C","freq":6368.9,"power":-88.4},{"series":"C","freq":6443.4,"power":-120.9},{"series":"C","freq":6518.8,"power":-88.9},{"series":"C","freq":6595.1,"power":-120.9},
{"series":"C","freq":6672.2,"power":-89.1},{"series":"C","freq":6750.3,"power":-120.9},{"series":"C","freq":6829.2,"power":-89.2},{"series":"C","freq":6909.1,"power":-120.9},{"series":"C","freq":6989.9,"power":-89.3},{"series":"C","freq":7071.7,"power":-120.9},{"series":"C","freq":7154.4,"power":-89.5},{"series":"C","freq":7238.1,"power":-120.9},{"series":"C","freq":7322.8,"power":-89.9},{"series":"C","freq":7408.5,"power":-120.9},
{"series":"C","freq":7495.1,"power":-90.4},{"series":"C","freq":7582.8,"power":-120.9},{"series":"C","freq":7671.5,"power":-90.9},{"series":"C","freq":7761.3,"power":-120.9},{"series":"C","freq":7851.8,"power":-91.1},{"series":"C","freq":7943.7,"power":-120.9},{"series":"C","freq":8036.6,"power":-91.4},{"series":"C","freq":8130.6,"power":-120.9},{"series":"C","freq":8225.8,"power":-91.6},{"series":"C","freq":8322.0,"power":-120.9},
{"series":"C","freq":8419.4,"power":-91.9},{"series":"C","freq":8517.9,"power":-120.9},{"series":"C","freq":8617.5,"power":-92.2},{"series":"C","freq":8718.3,"power":-120.9},{"series":"C","freq":8820.3,"power":-92.3},{"series":"C","freq":8923.5,"power":-120.9},{"series":"C","freq":9027.9,"power":-92.5},{"series":"C","freq":9133.5,"power":-120.9},{"series":"C","freq":9240.3,"power":-93.1},{"series":"C","freq":9348.4,"power":-120.9},
{"series":"C","freq":9457.8,"power":-92.9},{"series":"C","freq":9568.5,"power":-120.9},{"series":"C","freq":9680.4,"power":-92.7},{"series":"C","freq":9793.7,"power":-120.9},{"series":"C","freq":9907.9,"power":-93.1},{"series":"C","freq":10024,"power":-120.9},{"series":"C","freq":10141,"power":-93.4},{"series":"C","freq":10260,"power":-120.9},{"series":"C","freq":10380,"power":-93.6},{"series":"C","freq":10501,"power":-120.9},
{"series":"C","freq":10624,"power":-93.7},{"series":"C","freq":10748,"power":-120.9},{"series":"C","freq":10874,"power":-93.9},{"series":"C","freq":11001,"power":-120.9},{"series":"C","freq":11130,"power":-93.9},{"series":"C","freq":11260,"power":-120.9},{"series":"C","freq":11392,"power":-94.1},{"series":"C","freq":11525,"power":-120.9},{"series":"C","freq":11660,"power":-94.2},{"series":"C","freq":11796,"power":-120.9},
{"series":"C","freq":11934,"power":-93.1},{"series":"C","freq":12074,"power":-120.9},{"series":"C","freq":12215,"power":-94.2},{"series":"C","freq":12358,"power":-120.9},{"series":"C","freq":12502,"power":-94.4},{"series":"C","freq":12648,"power":-120.9},{"series":"C","freq":12796,"power":-94.6},{"series":"C","freq":12946,"power":-120.9},{"series":"C","freq":13098,"power":-94.5},{"series":"C","freq":13251,"power":-120.9},
{"series":"C","freq":13406,"power":-94.7},{"series":"C","freq":13563,"power":-120.9},{"series":"C","freq":13721,"power":-94.4},{"series":"C","freq":13882,"power":-120.9},{"series":"C","freq":14044,"power":-94.2},{"series":"C","freq":14208,"power":-120.9},{"series":"C","freq":14375,"power":-94.4},{"series":"C","freq":14543,"power":-120.9},{"series":"C","freq":14713,"power":-94.9},{"series":"C","freq":14885,"power":-120.9},
{"series":"C","freq":15059,"power":-95.1},{"series":"C","freq":15235,"power":-120.9},{"series":"C","freq":15414,"power":-94.9},{"series":"C","freq":15594,"power":-120.9},{"series":"C","freq":15776,"power":-94.6},{"series":"C","freq":15961,"power":-120.9},{"series":"C","freq":16147,"power":-94.7},{"series":"C","freq":16336,"power":-120.9},{"series":"C","freq":16527,"power":-94.9},{"series":"C","freq":16720,"power":-120.9},
{"series":"C","freq":16916,"power":-94.5},{"series":"C","freq":17114,"power":-120.9},{"series":"C","freq":17314,"power":-94.9},{"series":"C","freq":17517,"power":-120.9},{"series":"C","freq":17722,"power":-93.2},{"series":"C","freq":17929,"power":-120.9},{"series":"C","freq":18139,"power":-93.9},{"series":"C","freq":18351,"power":-120.9},{"series":"C","freq":18565,"power":-95.2},{"series":"C","freq":18782,"power":-120.9},
{"series":"C","freq":19002,"power":-95.4},{"series":"C","freq":19224,"power":-120.9},{"series":"C","freq":19449,"power":-95.6},{"series":"C","freq":19677,"power":-120.9},{"series":"C","freq":19907,"power":-95.7},{"series":"C","freq":20140,"power":-120.9},{"series":"C","freq":20375,"power":-95.9},{"series":"C","freq":20560,"power":-120.9}
    ]
  },
  "layer": [
    {
      "layer": [
        {
          "data": {"name": "spectra"},
          "transform": [{"filter": "datum.series === 'A'"}],
          "mark": {"type": "line", "clip": true, "strokeWidth": 4.8, "strokeJoin": "round"},
          "encoding": {
            "x": {"field": "freq", "type": "quantitative", "scale": {"type": "log", "domain": [1, 20560], "nice": false}, "axis": {"title": null}},
            "y": {"field": "power", "type": "quantitative", "scale": {"domain": [-115, 0], "nice": false, "zero": false}, "axis": {"title": null}},
            "color": {"field": "series", "type": "nominal", "scale": {"domain": ["A", "B", "C"], "range": ["#8dd3c7", "#feffb3", "#bfbbd9"]},
              "legend": {"orient": "none", "legendX": 1726, "legendY": 12, "title": null, "symbolType": "stroke", "symbolSize": 11449, "symbolStrokeWidth": 6.7, "labelFontSize": 36, "labelColor": "#ffffff", "labelOffset": 24, "rowPadding": 30, "padding": 0, "clipHeight": 40}}
          }
        },
        {
          "data": {"name": "spectra"},
          "transform": [{"filter": "datum.series === 'B'"}],
          "mark": {"type": "line", "clip": true, "strokeWidth": 4.8, "strokeJoin": "round"},
          "encoding": {
            "x": {"field": "freq", "type": "quantitative", "scale": {"type": "log", "domain": [1, 20560], "nice": false}, "axis": {"title": null}},
            "y": {"field": "power", "type": "quantitative", "scale": {"domain": [-115, 0], "nice": false, "zero": false}, "axis": {"title": null}},
            "color": {"field": "series", "type": "nominal"}
          }
        },
        {
          "data": {"name": "spectra"},
          "transform": [{"filter": "datum.series === 'C'"}],
          "mark": {"type": "line", "clip": true, "strokeWidth": 4.8, "strokeJoin": "round"},
          "encoding": {
            "x": {"field": "freq", "type": "quantitative", "scale": {"type": "log", "domain": [1, 20560], "nice": false}, "axis": {"title": null}},
            "y": {"field": "power", "type": "quantitative", "scale": {"domain": [-115, 0], "nice": false, "zero": false}, "axis": {"title": null}},
            "color": {"field": "series", "type": "nominal"}
          }
        },
        {
          "data": {"name": "zoom"},
          "mark": {"type": "rect", "filled": false, "stroke": "#ffffff", "strokeWidth": 2},
          "encoding": {
            "x": {"field": "f1", "type": "quantitative", "axis": {"title": null}},
            "x2": {"field": "f2"},
            "y": {"field": "p1", "type": "quantitative", "axis": {"title": null}},
            "y2": {"field": "p2"}
          }
        },
        {
          "data": {"name": "links"},
          "mark": {"type": "rule", "stroke": "#ffffff", "strokeWidth": 2},
          "encoding": {
            "x": {"field": "f1", "type": "quantitative", "axis": {"title": null}},
            "x2": {"field": "f2"},
            "y": {"field": "p1", "type": "quantitative", "axis": {"title": null}},
            "y2": {"field": "p2"}
          }
        }
      ]
    },
    {
      "layer": [
        {
          "data": {"name": "spectra"},
          "transform": [{"filter": "datum.series === 'A' && datum.freq >= 10 && datum.freq <= 20"}],
          "mark": {"type": "line", "strokeWidth": 4.8, "strokeJoin": "round"},
          "encoding": {
            "x": {"field": "freq", "type": "quantitative", "scale": {"type": "log", "domain": [10, 20], "range": [213, 1108], "nice": false}, "axis": null},
            "y": {"field": "power", "type": "quantitative", "scale": {"domain": [-48.78, -26.64], "range": [1009, 515], "nice": false, "zero": false}, "axis": null},
            "color": {"field": "series", "type": "nominal", "legend": null}
          }
        },
        {
          "data": {"name": "spectra"},
          "transform": [{"filter": "datum.series === 'B' && datum.freq >= 10 && datum.freq <= 20"}],
          "mark": {"type": "line", "strokeWidth": 4.8, "strokeJoin": "round"},
          "encoding": {
            "x": {"field": "freq", "type": "quantitative", "scale": {"type": "log", "domain": [10, 20], "range": [213, 1108], "nice": false}, "axis": null},
            "y": {"field": "power", "type": "quantitative", "scale": {"domain": [-48.78, -26.64], "range": [1009, 515], "nice": false, "zero": false}, "axis": null},
            "color": {"field": "series", "type": "nominal", "legend": null}
          }
        },
        {
          "data": {"name": "spectra"},
          "transform": [{"filter": "datum.series === 'C' && datum.freq >= 10 && datum.freq <= 20"}],
          "mark": {"type": "line", "strokeWidth": 4.8, "strokeJoin": "round"},
          "encoding": {
            "x": {"field": "freq", "type": "quantitative", "scale": {"type": "log", "domain": [10, 20], "range": [213, 1108], "nice": false}, "axis": null},
            "y": {"field": "power", "type": "quantitative", "scale": {"domain": [-48.78, -26.64], "range": [1009, 515], "nice": false, "zero": false}, "axis": null},
            "color": {"field": "series", "type": "nominal", "legend": null}
          }
        },
        {
          "data": {"name": "zoom"},
          "mark": {"type": "rect", "filled": false, "stroke": "#ffffff", "strokeWidth": 2},
          "encoding": {
            "x": {"field": "f1", "type": "quantitative", "scale": {"type": "log", "domain": [10, 20], "range": [213, 1108], "nice": false}, "axis": null},
            "x2": {"field": "f2"},
            "y": {"field": "p1", "type": "quantitative", "scale": {"domain": [-48.78, -26.64], "range": [1009, 515], "nice": false, "zero": false}, "axis": null},
            "y2": {"field": "p2"}
          }
        }
      ]
    }
  ],
  "resolve": {"scale": {"x": "independent", "y": "independent"}}
}
